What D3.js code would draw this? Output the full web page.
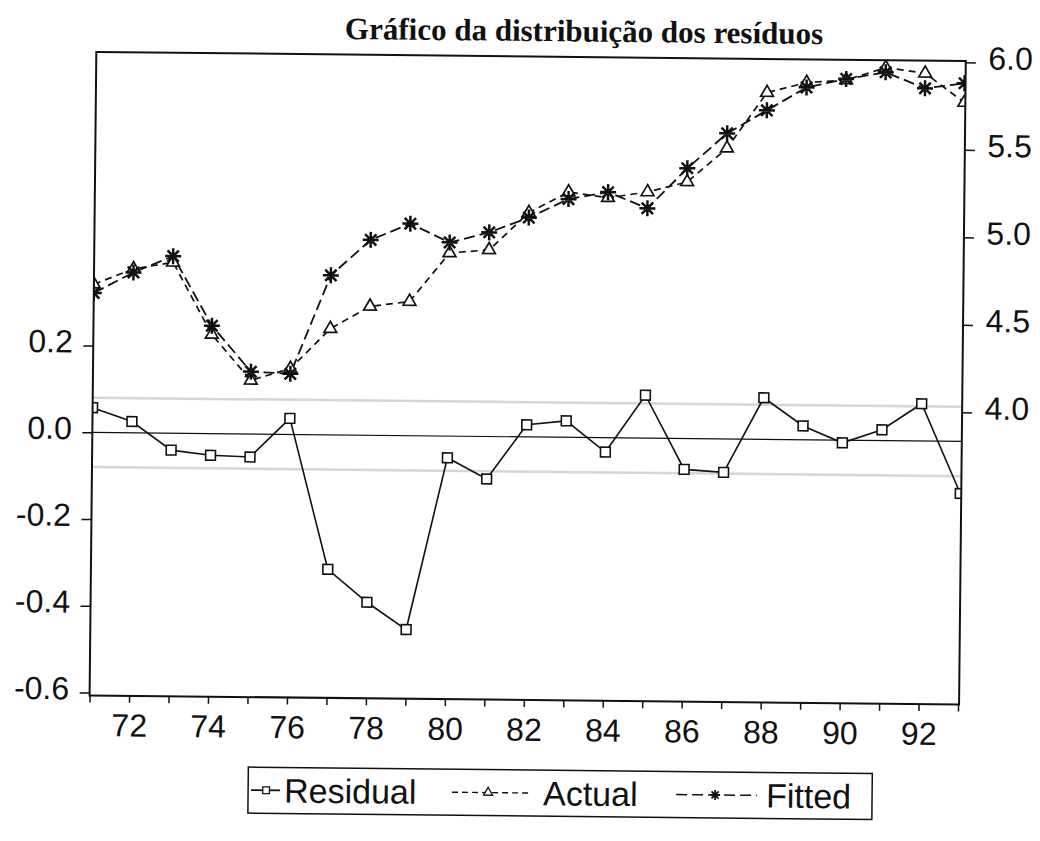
<!DOCTYPE html>
<html>
<head>
<meta charset="utf-8">
<script src="https://cdn.jsdelivr.net/npm/d3@7"></script>
<style>
  body { margin: 0; background: #fff; }
  svg { display: block; }
</style>
</head>
<body>
<svg id="chart" width="1040" height="841"></svg>
<script>
// ---------------- data ----------------
const years = [71,72,73,74,75,76,77,78,79,80,81,82,83,84,85,86,87,88,89,90,91,92,93];
const residual = [0.057,0.026,-0.039,-0.050,-0.053,0.037,-0.310,-0.385,-0.447,-0.050,-0.098,0.028,0.038,-0.033,0.099,-0.071,-0.077,0.096,0.032,-0.006,0.025,0.086,-0.120];
const actual   = [4.68,4.77,4.81,4.40,4.14,4.21,4.44,4.57,4.60,4.88,4.90,5.115,5.235,5.205,5.24,5.30,5.495,5.815,5.875,5.892,5.965,5.935,5.77];
const fitted   = [4.63,4.75,4.845,4.45,4.19,4.18,4.745,4.95,5.045,4.94,5.00,5.087,5.195,5.237,5.147,5.378,5.58,5.714,5.847,5.898,5.938,5.849,5.88];
const xLabelYears = [72,74,76,78,80,82,84,86,88,90,92];
const leftTicks  = [-0.6,-0.4,-0.2,0.0,0.2];
const leftLabels = ["-0.6","-0.4","-0.2","0.0","0.2"];
const rightTicks  = [4.0,4.5,5.0,5.5,6.0];
const rightLabels = ["4.0","4.5","5.0","5.5","6.0"];
const seBand = 0.08;
const titleText = "Gráfico da distribuição dos resíduos";
const legendNames = ["Residual","Actual","Fitted"];

// ---------------- layout ----------------
const box = {left: 92.5, right: 962, top: 56.5, bottom: 700};
const x  = d3.scaleLinear().domain([71, 93]).range([92.5, 961]);
const yL = d3.scaleLinear().domain([-0.6, 0.2]).range([697.2, 350.2]);
const yR = d3.scaleLinear().domain([4.0, 6.0]).range([407.8, 57.8]);

const svg = d3.select("#chart");
const root = svg.append("g").attr("transform", "rotate(0.6,530,420)");

const sans = "'Liberation Sans', Arial, sans-serif";

// title
root.append("text")
  .attr("x", 580).attr("y", 41)
  .attr("text-anchor", "middle")
  .attr("font-family", "'Liberation Serif', 'Times New Roman', serif")
  .attr("font-weight", "bold")
  .attr("font-size", 31)
  .attr("fill", "#111")
  .text(titleText);

// clip
svg.append("defs").append("clipPath").attr("id", "plotclip")
  .append("rect").attr("x", box.left).attr("y", box.top)
  .attr("width", box.right - box.left).attr("height", box.bottom - box.top);

const plot = root.append("g").attr("clip-path", "url(#plotclip)");

// standard-error band lines
[seBand, -seBand].forEach(v => {
  plot.append("line")
    .attr("x1", box.left).attr("x2", box.right)
    .attr("y1", yL(v)).attr("y2", yL(v))
    .attr("stroke", "#d6d6d6").attr("stroke-width", 2.5);
});
// zero line
plot.append("line")
  .attr("x1", box.left).attr("x2", box.right)
  .attr("y1", yL(0)).attr("y2", yL(0))
  .attr("stroke", "#111").attr("stroke-width", 1.2);

// lines
const lineL = d3.line().x((d, i) => x(years[i])).y(d => yL(d));
const lineR = d3.line().x((d, i) => x(years[i])).y(d => yR(d));

plot.append("path").datum(residual).attr("d", lineL)
  .attr("fill", "none").attr("stroke", "#111").attr("stroke-width", 1.6);
plot.append("path").datum(actual).attr("d", lineR)
  .attr("fill", "none").attr("stroke", "#111").attr("stroke-width", 1.7)
  .attr("stroke-dasharray", "7,5");
plot.append("path").datum(fitted).attr("d", lineR)
  .attr("fill", "none").attr("stroke", "#111").attr("stroke-width", 1.8)
  .attr("stroke-dasharray", "11,5");

// markers
const sq = d3.symbol().type(d3.symbolSquare).size(95);
const tri = d3.symbol().type(d3.symbolTriangle).size(70);
function starPath(r) {
  let p = "";
  for (let k = 0; k < 4; k++) {
    const a = k * Math.PI / 4;
    const dx = r * Math.cos(a), dy = r * Math.sin(a);
    p += `M${-dx},${-dy}L${dx},${dy}`;
  }
  return p;
}

plot.selectAll(".sq").data(residual).enter().append("path")
  .attr("d", sq())
  .attr("transform", (d, i) => `translate(${x(years[i])},${yL(d)})`)
  .attr("fill", "#fff").attr("stroke", "#111").attr("stroke-width", 1.6);
plot.selectAll(".tri").data(actual).enter().append("path")
  .attr("d", tri())
  .attr("transform", (d, i) => `translate(${x(years[i])},${yR(d)})`)
  .attr("fill", "#fff").attr("stroke", "#111").attr("stroke-width", 1.7);
plot.selectAll(".star").data(fitted).enter().append("path")
  .attr("d", starPath(8))
  .attr("transform", (d, i) => `translate(${x(years[i])},${yR(d)})`)
  .attr("fill", "none").attr("stroke", "#111").attr("stroke-width", 2.5);

// frame
root.append("rect")
  .attr("x", box.left).attr("y", box.top)
  .attr("width", box.right - box.left).attr("height", box.bottom - box.top)
  .attr("fill", "none").attr("stroke", "#111").attr("stroke-width", 2);

// axes
const axL = root.append("g").attr("transform", `translate(${box.left},0)`)
  .call(d3.axisLeft(yL).tickValues(leftTicks)
    .tickFormat((d, i) => leftLabels[i]).tickSize(10).tickPadding(10.5));
axL.select(".domain").remove();
axL.selectAll("text").attr("font-family", sans).attr("font-size", 32)
  .attr("fill", "#111").attr("dy", "6.5px");
axL.selectAll("line").attr("stroke", "#111").attr("stroke-width", 1.5);

const axR = root.append("g").attr("transform", `translate(${box.right},0)`)
  .call(d3.axisRight(yR).tickValues(rightTicks)
    .tickFormat((d, i) => rightLabels[i]).tickSize(10).tickPadding(12.5));
axR.select(".domain").remove();
axR.selectAll("text").attr("font-family", sans).attr("font-size", 32)
  .attr("fill", "#111").attr("dy", "6.5px");
axR.selectAll("line").attr("stroke", "#111").attr("stroke-width", 1.5);

const axB = root.append("g").attr("transform", `translate(0,${box.bottom})`)
  .call(d3.axisBottom(x).tickValues(years)
    .tickFormat(d => xLabelYears.includes(d) ? String(d) : "")
    .tickSize(7).tickPadding(11));
axB.select(".domain").remove();
axB.selectAll("text").attr("font-family", sans).attr("font-size", 32).attr("fill", "#111");
axB.selectAll("line").attr("stroke", "#111").attr("stroke-width", 1.5);

// legend
const leg = root.append("g");
const legY = 793;
leg.append("rect").attr("x", 252).attr("y", 770).attr("width", 624).attr("height", 46)
  .attr("fill", "none").attr("stroke", "#111").attr("stroke-width", 1.5);
// residual sample
leg.append("line").attr("x1", 255).attr("x2", 284).attr("y1", legY).attr("y2", legY)
  .attr("stroke", "#111").attr("stroke-width", 1.6);
leg.append("path").attr("d", d3.symbol().type(d3.symbolSquare).size(45)())
  .attr("transform", `translate(270,${legY})`)
  .attr("fill", "#fff").attr("stroke", "#111").attr("stroke-width", 1.3);
// actual sample
leg.append("line").attr("x1", 456).attr("x2", 536).attr("y1", legY).attr("y2", legY)
  .attr("stroke", "#111").attr("stroke-width", 1.4).attr("stroke-dasharray", "6,4");
leg.append("path").attr("d", d3.symbol().type(d3.symbolTriangle).size(35)())
  .attr("transform", `translate(492,${legY})`)
  .attr("fill", "#fff").attr("stroke", "#111").attr("stroke-width", 1.3);
// fitted sample
leg.append("line").attr("x1", 680).attr("x2", 761).attr("y1", legY).attr("y2", legY)
  .attr("stroke", "#111").attr("stroke-width", 1.5).attr("stroke-dasharray", "11,5");
leg.append("path").attr("d", starPath(5))
  .attr("transform", `translate(719,${legY})`)
  .attr("fill", "none").attr("stroke", "#111").attr("stroke-width", 1.8);

const legX = [288, 547, 770];
legendNames.forEach((n, i) => {
  leg.append("text").attr("x", legX[i]).attr("y", legY + 12)
    .attr("font-family", sans).attr("font-size", 34).attr("fill", "#111").text(n);
});
</script>
</body>
</html>
